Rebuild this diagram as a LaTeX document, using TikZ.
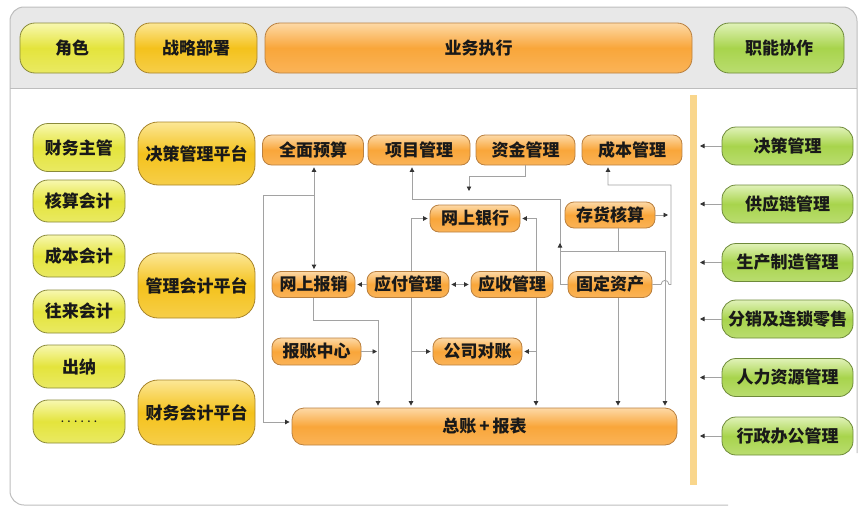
\documentclass[tikz,border=0pt]{standalone}
\usepackage{fontspec}
\setmainfont{Noto Sans CJK SC}
\usetikzlibrary{arrows.meta,calc}
\definecolor{frameC}{HTML}{BDBDBD}
\definecolor{hdrC}{HTML}{E8E8E8}
\definecolor{yelT}{HTML}{F8F8B0}
\definecolor{yelB}{HTML}{E4E43C}
\definecolor{yelD}{HTML}{8A8A3A}
\definecolor{golT}{HTML}{FCE796}
\definecolor{golB}{HTML}{F4C21C}
\definecolor{golD}{HTML}{A8842A}
\definecolor{orgT}{HTML}{FDD9A6}
\definecolor{orgB}{HTML}{F9A63A}
\definecolor{orgD}{HTML}{B98040}
\definecolor{grnT}{HTML}{E0F2B8}
\definecolor{grnB}{HTML}{A8D44C}
\definecolor{grnD}{HTML}{6E8A3A}
\definecolor{barC}{HTML}{F9D68C}
\definecolor{lineC}{HTML}{A2A2A2}
\definecolor{tipC}{HTML}{333333}
\tikzset{
  sz/.style 2 args={minimum width=#1pt, minimum height=#2pt},
  box/.style={draw, line width=0.8pt, inner sep=0pt, align=center,
    font=\bfseries\fontsize{17}{19}\selectfont, text=black!90},
  hbox/.style={box, rounded corners=15pt, font=\bfseries\fontsize{19.5}{21}\selectfont},
  yelbox/.style={box, draw=yelD, top color=yelT, bottom color=yelB!80!white, middle color=yelB},
  golbox/.style={box, draw=golD, top color=golT, bottom color=golB!80!white, middle color=golB},
  orgbox/.style={box, draw=orgD, top color=orgT, bottom color=orgB!85!white, middle color=orgB},
  grnbox/.style={box, draw=grnD, top color=grnT, bottom color=grnB!80!white, middle color=grnB},
  rolebox/.style={yelbox, rounded corners=15pt},
  platbox/.style={golbox, rounded corners=20pt},
  midbox/.style={orgbox, rounded corners=9pt},
  funbox/.style={grnbox, rounded corners=14pt},
  conn/.style={draw=lineC, line width=0.8pt},
  arr/.style={conn, -{Triangle[length=4.5pt,width=4.5pt,color=tipC]}, shorten >=2pt},
  arrfree/.style={conn, -{Triangle[length=4.5pt,width=4.5pt,color=tipC]}},
  dbl/.style={conn, {Triangle[length=4.5pt,width=4.5pt,color=tipC]}-{Triangle[length=4.5pt,width=4.5pt,color=tipC]}, shorten >=2pt, shorten <=2pt},
}
\begin{document}
\begin{tikzpicture}[x=1pt,y=-1pt]
\useasboundingbox (0,0) rectangle (868,514);
% header band
\fill[hdrC, rounded corners=14pt] (10,7) rectangle (857,88);
\fill[hdrC] (10,50) rectangle (857,88);
\draw[frameC, line width=0.8pt] (10,88) -- (857,88);
% frame
\draw[frameC, line width=1pt] (728,505) [rounded corners=14pt] -- (10,505) -- (10,7) -- (857,7) -- (857,453);
% vertical bar
\fill[barC] (690,95) rectangle (697,485);

% header nodes
\node[hbox, yelbox, rounded corners=15pt, sz={104}{50}] (hRole) at (72,48) {角色};
\node[hbox, golbox, rounded corners=15pt, sz={122}{50}] (hStrat) at (196,48) {战略部署};
\node[hbox, orgbox, rounded corners=15pt, sz={427}{50}] (hExec) at (478.5,48) {业务执行};
\node[hbox, grnbox, rounded corners=15pt, sz={130}{50}] (hFunc) at (779,48) {职能协作};

% roles
\node[rolebox, sz={92}{48}] (r1) at (79,147.5) {财务主管};
\node[rolebox, sz={92}{42}] (r2) at (79,201) {核算会计};
\node[rolebox, sz={92}{42}] (r3) at (79,256) {成本会计};
\node[rolebox, sz={92}{43}] (r4) at (79,311.5) {往来会计};
\node[rolebox, sz={92}{43}] (r5) at (79,366.5) {出纳};
\node[rolebox, sz={92}{43}] (r6) at (79,421.5) {\fontsize{8}{8}\selectfont\makebox[36pt]{.\hfill.\hfill.\hfill.\hfill.\hfill.}};

% platforms
\node[platbox, sz={117}{63}] (p1) at (196.5,153.5) {决策管理平台};
\node[platbox, sz={117}{65}] (p2) at (196.5,285.5) {管理会计平台};
\node[platbox, sz={117}{65}] (p3) at (196.5,412.5) {财务会计平台};

% middle nodes
\node[midbox, sz={101}{30}] (m1) at (313,150) {全面预算};
\node[midbox, sz={102}{30}] (m2) at (419,150) {项目管理};
\node[midbox, sz={99}{30}] (m3) at (525.5,150) {资金管理};
\node[midbox, sz={100}{30}] (m4) at (632,150) {成本管理};
\node[midbox, sz={90}{27}] (yh) at (475,218.5) {网上银行};
\node[midbox, sz={90}{26}] (ch) at (610,215) {存货核算};
\node[midbox, sz={83}{26}] (bx) at (313.5,284.5) {网上报销};
\node[midbox, sz={82}{26}] (yf) at (408,284.5) {应付管理};
\node[midbox, sz={82}{26}] (ys) at (512,284.5) {应收管理};
\node[midbox, sz={84}{26}] (gd) at (610,284.5) {固定资产};
\node[midbox, sz={89}{27}] (bz) at (316.5,351.5) {报账中心};
\node[midbox, sz={89}{27}] (gs) at (477.5,351.5) {公司对账};
\node[orgbox, rounded corners=12pt, sz={385}{37}] (zz) at (484.5,426.5) {总账\,+\,报表};

% function nodes
\node[funbox, sz={131}{38}] (f1) at (787.5,146) {决策管理};
\node[funbox, sz={131}{38}] (f2) at (787.5,204) {供应链管理};
\node[funbox, sz={131}{38}] (f3) at (787.5,262.5) {生产制造管理};
\node[funbox, sz={131}{38}] (f4) at (787.5,319) {分销及连锁零售};
\node[funbox, sz={131}{38}] (f5) at (787.5,377.5) {人力资源管理};
\node[funbox, sz={131}{38}] (f6) at (787.5,436) {行政办公管理};
\foreach \f in {f1,f2,f3,f4,f5,f6}
  \draw[arrfree] (\f.west) -- (\f.west -| 700,0);

% connectors
\draw[dbl] (m1.south -| 314,0) -- (bx.north -| 314,0);
\coordinate (j1) at (314,195);
\draw[arr] (j1) -- (263,195) -- (263,422) -- (zz.west |- 0,422);
\draw[arr] (gd.west) -| (560,199) -| (m2.south -| 412,0);
\draw[arrfree] (ch.south -| 618,0) |- (560,251) -- (560,243);
\coordinate (j2) at (618,251);
\draw[arr] (j2) -| (zz.north -| 665,0);
\draw[arrfree] (m3.south) -- (525.5,176) -| (469,191);
\draw[arr] (yf.north -| 411,0) |- (yh.west);
\draw[arr] (ys.north -| 536,0) |- (yh.east);
\draw[arr] (yf.south -| 411,0) -- (zz.north -| 411,0);
\draw[arr] (gs.west -| 411,0) -- (gs.west);
\draw[arr] (ys.south -| 536,0) -- (zz.north -| 536,0);
\draw[arr] (gs.east -| 536,0) -- (gs.east);
\draw[arr] (bx.south) |- (378,320) -- (zz.north -| 378,0);
\draw[arrfree] (bz.east) -- (bz.east -| 377,0);
\draw[arr] (gd.south -| 618,0) -- (zz.north -| 618,0);
\draw[arr] (gd.east) -- (661,284.5) .. controls (661.5,279) and (668.5,279) .. (669,284.5) -- (671,284.5) -- (671,185) -- (608,185) -- (m4.south -| 608,0);
\draw[arrfree] (ch.east) -- (ch.east -| 668,0);
\draw[arr] (yf.west) -- (bx.east);
\draw[dbl] (yf.east) -- (ys.west);
\end{tikzpicture}
\end{document}
